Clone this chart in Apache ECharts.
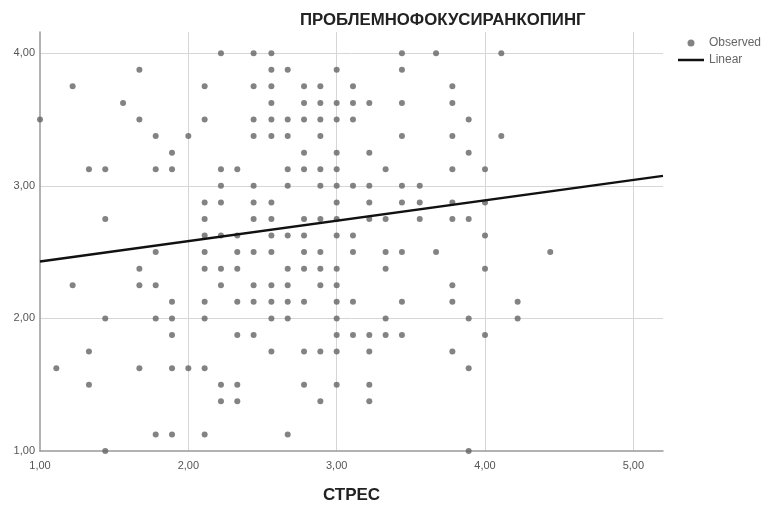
<!DOCTYPE html>
<html>
<head>
<meta charset="utf-8">
<script src="https://cdn.jsdelivr.net/npm/echarts@6/dist/echarts.min.js"></script>
<style>
  html, body { margin: 0; padding: 0; background: #fff; }
  #chart_id { width: 765px; height: 505px; }
</style>
</head>
<body>
<div id="chart_id"></div>
<script>
// y levels (ПРОБЛЕМНОФОКУСИРАНКОПИНГ), top to bottom
const copingLevels = [4.00, 3.875, 3.75, 3.625, 3.50, 3.375, 3.25, 3.125, 3.00, 2.875, 2.75, 2.625,
  2.50, 2.375, 2.25, 2.125, 2.00, 1.875, 1.75, 1.625, 1.50, 1.375, 1.125, 1.00];
// x values (СТРЕС) of the points sitting on each level
const stresAtLevel = [
  [2.22, 2.44, 2.56, 3.44, 3.67, 4.11],
  [1.67, 2.56, 2.67, 3.00, 3.44],
  [1.22, 2.11, 2.44, 2.56, 2.78, 2.89, 3.11, 3.78],
  [1.56, 2.56, 2.78, 2.89, 3.00, 3.11, 3.22, 3.44, 3.78],
  [1.00, 1.67, 2.11, 2.44, 2.56, 2.67, 2.78, 2.89, 3.00, 3.11, 3.89],
  [1.78, 2.00, 2.44, 2.56, 2.67, 2.89, 3.44, 3.78, 4.11],
  [1.89, 2.78, 3.00, 3.22, 3.89],
  [1.33, 1.44, 1.78, 1.89, 2.22, 2.33, 2.67, 2.78, 2.89, 3.00, 3.33, 3.78, 4.00],
  [2.22, 2.44, 2.67, 2.89, 3.00, 3.11, 3.22, 3.44, 3.56],
  [2.11, 2.22, 2.44, 2.56, 3.00, 3.22, 3.44, 3.56, 3.78, 4.00],
  [1.44, 2.11, 2.44, 2.56, 2.78, 2.89, 3.00, 3.22, 3.33, 3.56, 3.78, 3.89],
  [2.11, 2.22, 2.33, 2.56, 2.67, 2.78, 3.00, 3.11, 4.00],
  [1.78, 2.11, 2.33, 2.44, 2.56, 2.78, 2.89, 3.11, 3.33, 3.44, 3.67, 4.44],
  [1.67, 2.11, 2.22, 2.33, 2.67, 2.78, 2.89, 3.00, 3.33, 4.00],
  [1.22, 1.67, 1.78, 2.22, 2.44, 2.56, 2.67, 2.89, 3.00, 3.78],
  [1.89, 2.11, 2.33, 2.44, 2.56, 2.67, 2.78, 3.00, 3.11, 3.44, 3.78, 4.22],
  [1.44, 1.78, 1.89, 2.11, 2.56, 2.67, 3.00, 3.33, 3.89, 4.22],
  [1.89, 2.33, 2.44, 3.00, 3.11, 3.22, 3.33, 3.44, 4.00],
  [1.33, 2.56, 2.78, 2.89, 3.00, 3.22, 3.78],
  [1.11, 1.67, 1.89, 2.00, 2.11, 3.89],
  [1.33, 2.22, 2.33, 2.78, 3.00, 3.22],
  [2.22, 2.33, 2.89, 3.22],
  [1.78, 1.89, 2.11, 2.67],
  [1.44, 3.89],
];
// fitted line end points
const linearX = [1.00, 5.20];
const linearY = [2.43, 3.075];

const observed = [];
copingLevels.forEach((y, k) => {
  stresAtLevel[k].forEach((x) => observed.push([x, y]));
});
const linear = linearX.map((x, k) => [x, linearY[k]]);

const font = "'Liberation Sans', Arial, sans-serif";
const fmt = (v) => v.toFixed(2).replace('.', ',');

const myChart = echarts.init(document.getElementById('chart_id'));
const option = {
  animation: false,
  textStyle: { fontFamily: font },
  title: {
    text: 'ПРОБЛЕМНОФОКУСИРАНКОПИНГ',
    left: 300,
    top: 12,
    padding: 0,
    textStyle: { fontSize: 16.8, fontWeight: 'bold', color: '#222', fontFamily: font },
  },
  legend: {
    orient: 'vertical',
    left: 678,
    top: 36,
    padding: 0,
    itemWidth: 26,
    itemHeight: 7,
    itemGap: 3,
    textStyle: { fontSize: 12, color: '#666', fontFamily: font, lineHeight: 14 },
    data: [
      { name: 'Observed', icon: 'circle' },
      // plain bar, no marker in the middle
      { name: 'Linear', icon: 'path://M0,0 L26,0 L26,2.5 L0,2.5 Z' },
    ],
  },
  grid: {
    left: 40,
    right: 102,
    top: 32,
    bottom: 54,
    containLabel: false,
    outerBoundsMode: 'none', // keep the plot box fixed
  },
  xAxis: {
    type: 'value',
    min: 1,
    max: 5.2,
    interval: 1,
    name: 'СТРЕС',
    nameLocation: 'middle',
    nameGap: 36,
    nameTextStyle: { fontSize: 17, fontWeight: 'bold', color: '#222', fontFamily: font },
    axisLine: { show: true, lineStyle: { color: '#999', width: 1.5 } },
    axisTick: { show: false },
    axisLabel: { formatter: fmt, fontSize: 11, color: '#555', margin: 9, showMaxLabel: false },
    splitLine: { show: true, showMinLine: false, showMaxLine: false, lineStyle: { color: '#d6d6d6', width: 1 } },
  },
  yAxis: {
    type: 'value',
    min: 1,
    max: 4.16,
    interval: 1,
    axisLine: { show: true, lineStyle: { color: '#999', width: 1.5 } },
    axisTick: { show: false },
    axisLabel: { formatter: fmt, fontSize: 11, color: '#555', margin: 5, showMaxLabel: false },
    splitLine: { show: true, showMinLine: false, showMaxLine: false, lineStyle: { color: '#d6d6d6', width: 1 } },
  },
  series: [
    {
      name: 'Observed',
      type: 'scatter',
      data: observed,
      symbol: 'circle',
      symbolSize: 6,
      itemStyle: { color: '#646464' },
      z: 2,
    },
    {
      name: 'Linear',
      type: 'line',
      data: linear,
      symbol: 'none',
      lineStyle: { color: '#111', width: 2.5 },
      itemStyle: { color: '#111' },
      z: 3,
    },
  ],
};
myChart.setOption(option);
window.onresize = myChart.resize;
</script>
</body>
</html>
